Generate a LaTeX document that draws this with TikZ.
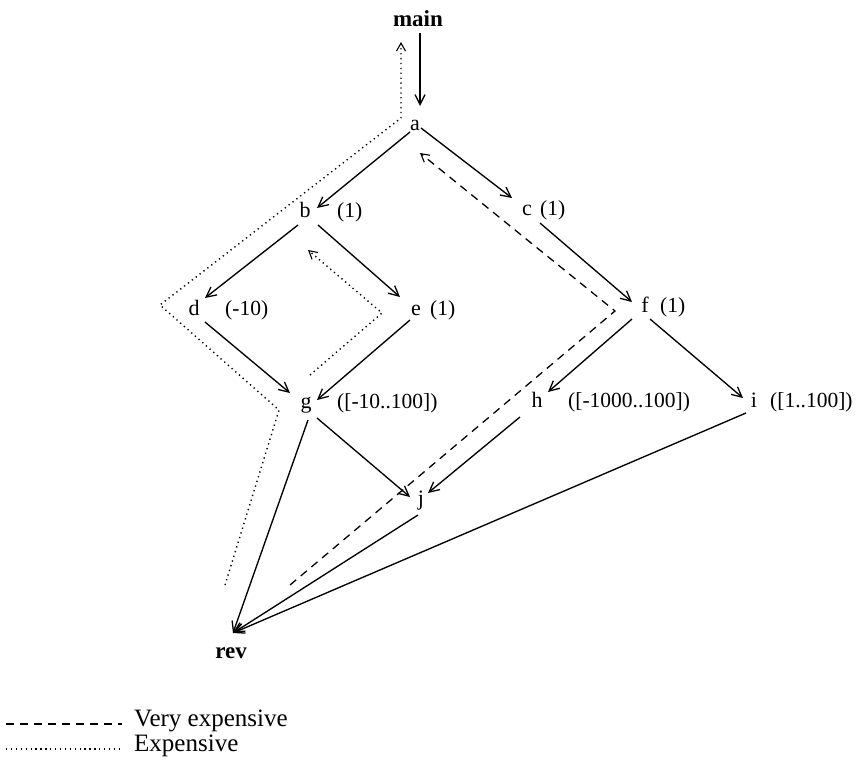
\documentclass[tikz,border=0pt]{standalone}
\usepackage{fontspec}
\setmainfont{Liberation Serif}
\usetikzlibrary{arrows.meta,calc}
\begin{document}
\begin{tikzpicture}[x=1pt,y=-1pt,
  lbl/.style={anchor=base, inner sep=0pt, font=\fontsize{22}{24}\selectfont},
  annot/.style={anchor=base west, inner sep=0pt, font=\fontsize{21.5}{24}\selectfont},
  bignode/.style={anchor=base, inner sep=0pt, font=\fontsize{23}{26}\selectfont\bfseries},
  legtext/.style={anchor=base west, inner sep=0pt, font=\fontsize{25}{28}\selectfont},
  arr/.style={line width=1.35pt, -{Straight Barb[length=10pt,width=10pt,line width=1.3pt]}},
  dotline/.style={line width=1.4pt, dash pattern=on 1.3pt off 3.6pt},
  dashline/.style={line width=1.3pt, dash pattern=on 8pt off 6pt},
  tipped/.style={-{Straight Barb[length=8pt,width=9pt,line width=1.1pt]}}
]
\useasboundingbox (0,0) rectangle (857,769);

% nodes
\node[bignode] (main) at (418,26) {main};
\node[lbl] (a) at (415,130) {a};
\node[lbl] (b) at (305,217) {b};
\node[lbl] (c) at (527,215) {c};
\node[lbl] (d) at (194,315) {d};
\node[lbl] (e) at (416,315) {e};
\node[lbl] (f) at (645,312) {f};
\node[lbl] (g) at (306,408) {g};
\node[lbl] (h) at (537,407) {h};
\node[lbl] (i) at (754,407) {i};
\node[lbl] (j) at (421,505) {j};
\node[bignode] (rev) at (231,658) {rev};

% annotations
\node[annot] (bl) at (337,217) {(1)};
\node[annot] (cl) at (540,215) {(1)};
\node[annot] (dl) at (225,315) {(-10)};
\node[annot] (el) at (430,315) {(1)};
\node[annot] (fl) at (660,312) {(1)};
\node[annot] (gl) at (337,408) {([-10..100])};
\node[annot] (hl) at (568,407) {([-1000..100])};
\node[annot] (il) at (770,407) {([1..100])};

% solid edges
\draw[arr] ($(main.base)+(2,7)$) -- ($(a.base)+(5,-24)$);
\draw[arr] ($(a.base)+(-5,2)$) -- ($(b.base)+(12,-9)$);
\draw[arr] ($(a.base)+(6,-2)$) -- ($(c.base)+(-15,-17)$);
\draw[arr] ($(b.base)+(-7,8)$) -- ($(d.base)+(11,-17)$);
\draw[arr] ($(b.base)+(13,8)$) -- ($(e.base)+(-16,-18)$);
\draw[arr] ($(c.base)+(13,8)$) -- ($(f.base)+(-13,-10)$);
\draw[arr] ($(d.base)+(11,7)$) -- ($(g.base)+(-16,-15)$);
\draw[arr] ($(e.base)+(-6,5)$) -- ($(g.base)+(11,-8)$);
\draw[arr] ($(f.base)+(-13,7)$) -- ($(h.base)+(11,-15)$);
\draw[arr] ($(f.base)+(5,7)$) -- ($(i.base)+(-11,-9)$);
\draw[arr] ($(g.base)+(11,10)$) -- ($(j.base)+(-11,-8)$);
\draw[arr] ($(h.base)+(-17,10)$) -- ($(j.base)+(7,-12)$);
\draw[arr] ($(g.base)+(2,12)$) -- ($(rev.base)+(2,-25)$);
\draw[arr] ($(j.base)+(-3,10)$) -- ($(rev.base)+(2,-25)$);
\draw[arr] ($(i.base)+(-8,6)$) -- ($(rev.base)+(2,-25)$);

% expensive (dotted) paths
\draw[dotline, tipped] ($(rev.base)+(-6,-73)$) -- (279,410) -- (160,305) -- (401,118) -- ($(main.base)+(-17,16)$);
\draw[dotline, tipped] ($(g.base)+(4,-33)$) -- (382,313) -- ($(b.base)+(3,33)$);

% very expensive (dashed) path
\draw[dashline, tipped] ($(rev.base)+(59,-73)$) -- (615,311) -- ($(a.base)+(5,23)$);

% legend
\coordinate (l1a) at (6,724);
\coordinate (l1b) at (122,724);
\coordinate (l2a) at (6,749);
\coordinate (l2b) at (122,749);
\draw[dashline] (l1a) -- (l1b);
\node[legtext] (leg1) at (134,726) {Very expensive};
\draw[dotline] (l2a) -- (l2b);
\node[legtext] (leg2) at (134,751) {Expensive};
\end{tikzpicture}
\end{document}
